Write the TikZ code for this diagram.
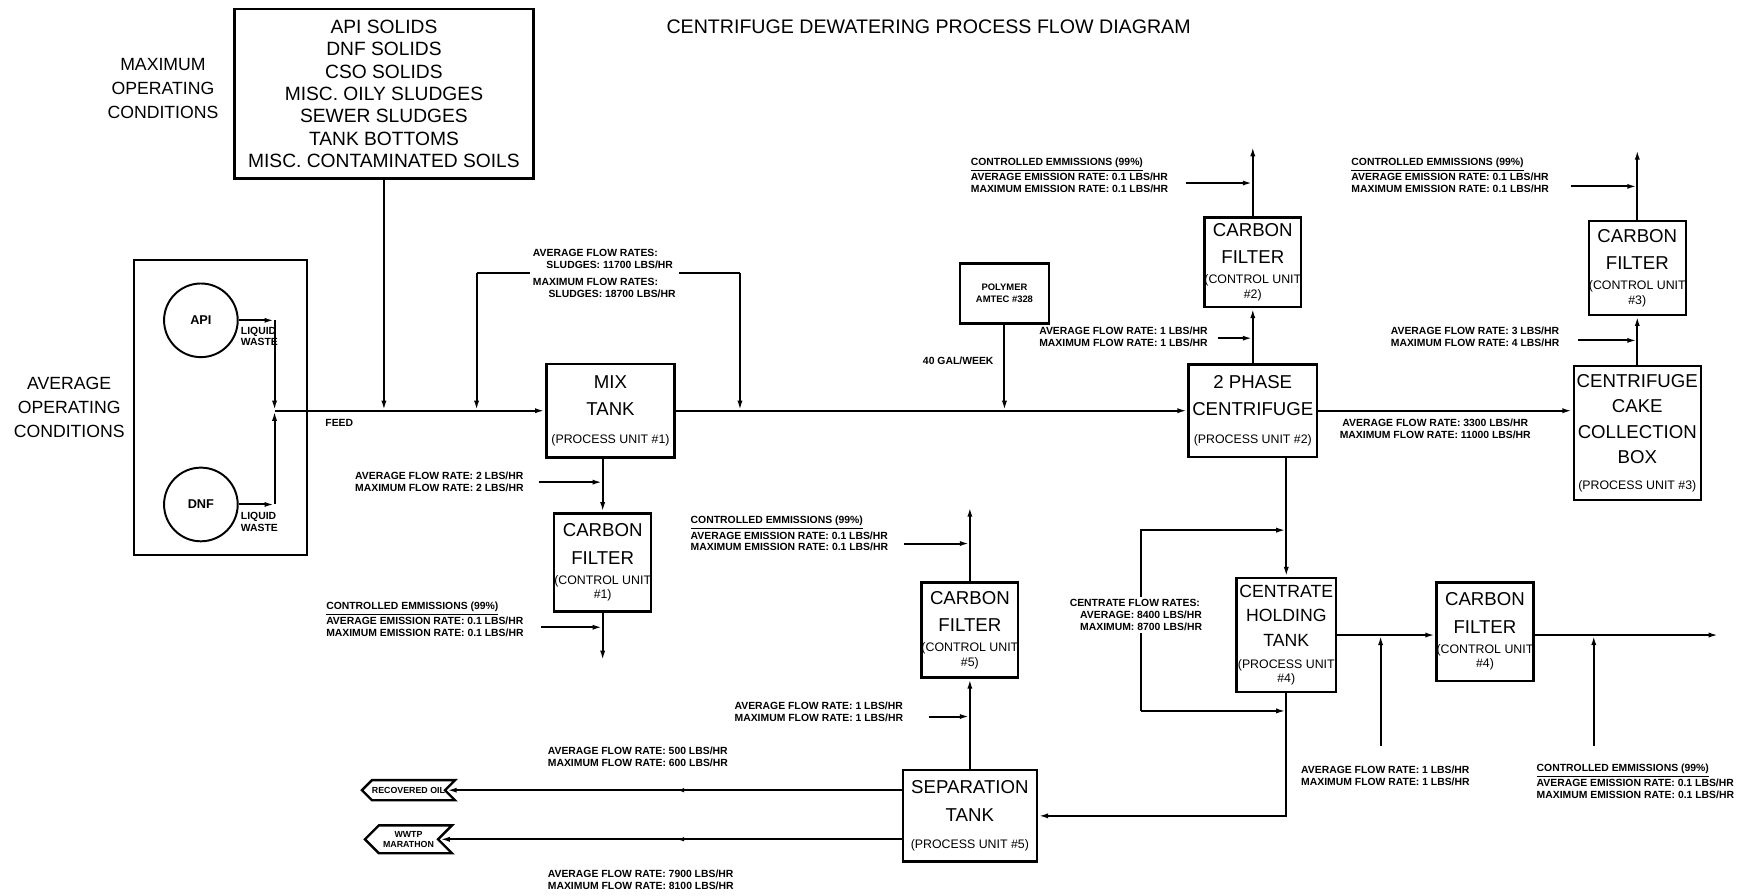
\documentclass[tikz,border=0pt]{standalone}
\usepackage{fontspec}
\setmainfont{Liberation Sans}
\usetikzlibrary{arrows.meta,positioning,shapes.symbols}

\newcommand{\unitline}[1]{{\fontsize{6.3}{7}\selectfont #1}}

\begin{document}
\begin{tikzpicture}[
  x=0.2mm, y=-0.2mm,
  line width=1pt,
  >={Latex[length=1.8mm,width=0.9mm]},
  procbox/.style={draw,line width=1.2pt,align=center,inner sep=0pt,
                  font=\fontsize{9.5}{14}\selectfont},
  ctrlbox/.style={procbox,minimum width=17mm,minimum height=17mm},
  note/.style={font=\fontsize{5.3}{6}\selectfont\bfseries,align=left,inner sep=0pt},
  condlbl/.style={font=\fontsize{9}{12.2}\selectfont,align=center,inner sep=0pt},
  tank/.style={draw,circle,minimum size=13.2mm,inner sep=0pt,
               font=\fontsize{6.5}{7}\selectfont\bfseries},
  outlet/.style={draw,line width=1.2pt,signal,signal to=west,signal from=east,
                 inner sep=0pt,align=center,minimum width=15.6mm,
                 font=\fontsize{4.5}{5}\selectfont\bfseries},
  smalltip/.style={-{Latex[length=1.4mm,width=0.8mm]}},
]
\useasboundingbox (0,0) rectangle (1568,802);

% ---- title ----
\node[font=\fontsize{10}{12}\selectfont] (title) at (832,24)
     {CENTRIFUGE DEWATERING PROCESS FLOW DIAGRAM};

% ---- maximum operating conditions: the feed materials ----
\node[condlbl] (maxlbl) at (146,79) {MAXIMUM\\OPERATING\\CONDITIONS};
\node[draw,line width=1.2pt,minimum width=53.6mm,minimum height=30.4mm,
      align=center,inner sep=0pt,font=\fontsize{9.8}{11.4}\selectfont]
     (feeds) at (344,84)
     {API SOLIDS\\DNF SOLIDS\\CSO SOLIDS\\MISC. OILY SLUDGES\\SEWER SLUDGES\\
      TANK BOTTOMS\\MISC. CONTAMINATED SOILS};

% ---- average operating conditions: API and DNF liquid waste ----
\node[condlbl] (avglbl) at (62,365) {AVERAGE\\OPERATING\\CONDITIONS};
\node[draw,line width=1.2pt,minimum width=31mm,minimum height=52.8mm]
     (source) at (197.5,365) {};
\node[tank] (api) at (180,287) {API};
\node[tank] (dnf) at (180,452) {DNF};
\node[note,anchor=north west] (apiwaste) at (215,292) {LIQUID\\WASTE};
\node[note,anchor=north west] (dnfwaste) at (215,458) {LIQUID\\WASTE};

\coordinate (join) at (246,368);
\draw[->] (api.east) -- (api.east -| join) coordinate (apicorner);
\draw[->] (apicorner) -- (join);
\draw[->] (dnf.east) -- (dnf.east -| join) coordinate (dnfcorner);
\draw[->] (dnfcorner) -- (join);

% ---- feed line into the mix tank ----
\node[procbox,minimum width=23mm,minimum height=16.8mm] (mixtank) at (547,368)
     {MIX\\TANK\\\unitline{(PROCESS UNIT \#1)}};
\draw[->] (join) -- (mixtank.west);
\node[note] (feed) at (304,379) {FEED};
\draw[->] (feeds.south) -- (feeds.south |- join);

% sludge rates sit in a gap of the bracket line
\coordinate (sludgeL) at (427,245);
\coordinate (sludgeR) at (663,245);
\draw (sludgeL) -- (sludgeR);
\draw[->] (sludgeL) -- (sludgeL |- mixtank.west);
\draw[->] (sludgeR) -- (sludgeR |- mixtank.east);
\node[note,fill=white,inner sep=1.5pt,anchor=west] (sludge) at (474,245)
     {AVERAGE FLOW RATES:\\\hspace{1.3em}SLUDGES: 11700 LBS/HR\\[3pt]
      MAXIMUM FLOW RATES:\\\hspace{1.5em}SLUDGES: 18700 LBS/HR};

% ---- polymer and the 2 phase centrifuge ----
\node[draw,line width=1.2pt,minimum width=16mm,minimum height=10.8mm,
      align=center,inner sep=0pt,font=\fontsize{4.8}{6}\selectfont\bfseries]
     (polymer) at (900,263) {POLYMER\\AMTEC \#328};
\node[note,anchor=east] (gal) at (891,323) {40 GAL/WEEK};

\node[procbox,minimum width=23mm,minimum height=16.6mm] (centrifuge) at (1122.5,368)
     {2 PHASE\\CENTRIFUGE\\\unitline{(PROCESS UNIT \#2)}};
\draw[->] (mixtank.east) -- (centrifuge.west);
\draw[->] (polymer.south) -- (polymer.south |- mixtank.east);

% ---- carbon filter 1 under the mix tank ----
\node[ctrlbox,minimum height=17.6mm] (cf1) at (540,504)
     {CARBON\\FILTER\\[-3.8pt]\unitline{(CONTROL UNIT}\\[-6.6pt]\unitline{\#1)}};
\draw[->] (cf1.north |- mixtank.south) -- (cf1.north);
\coordinate (cf1in) at (483,432);
\draw[->] (cf1in) -- (cf1in -| cf1.north);
\node[note,anchor=east] (cf1rate) at (470,432)
     {AVERAGE FLOW RATE: 2 LBS/HR\\MAXIMUM FLOW RATE: 2 LBS/HR};
\coordinate (cf1vent) at (540,592);
\draw[->] (cf1.south) -- (cf1vent);
\coordinate (cf1em) at (485,562);
\draw[->] (cf1em) -- (cf1em -| cf1.south);
\node[note,anchor=east] (cf1emis) at (470,555)
     {\underline{CONTROLLED EMMISSIONS (99\%)}\\AVERAGE EMISSION RATE: 0.1 LBS/HR\\
      MAXIMUM EMISSION RATE: 0.1 LBS/HR};

% ---- carbon filter 2 over the centrifuge ----
\node[ctrlbox,minimum width=17.2mm,minimum height=16mm] (cf2) at (1122.5,235)
     {CARBON\\FILTER\\[-3.8pt]\unitline{(CONTROL UNIT}\\[-6.6pt]\unitline{\#2)}};
\draw[->] (centrifuge.north) -- (cf2.south);
\coordinate (cf2in) at (1091,303);
\draw[->] (cf2in) -- (cf2in -| cf2.south);
\node[note,anchor=east] (cf2rate) at (1083,302)
     {AVERAGE FLOW RATE: 1 LBS/HR\\MAXIMUM FLOW RATE: 1 LBS/HR};
\coordinate (cf2vent) at (1122.5,131);
\draw[->] (cf2.north) -- (cf2vent);
\coordinate (cf2em) at (1063,164);
\draw[->] (cf2em) -- (cf2em -| cf2.north);
\node[note,anchor=west] (cf2emis) at (869,157)
     {\underline{CONTROLLED EMMISSIONS (99\%)}\\AVERAGE EMISSION RATE: 0.1 LBS/HR\\
      MAXIMUM EMISSION RATE: 0.1 LBS/HR};

% ---- cake collection box and carbon filter 3 ----
\node[procbox,minimum width=22.8mm,minimum height=24mm] (cakebox) at (1467,388)
     {CENTRIFUGE\\[-1pt]CAKE\\[-1pt]COLLECTION\\[-1pt]BOX\\[-1pt]
      \unitline{(PROCESS UNIT \#3)}};
\draw[->] (centrifuge.east) -- (centrifuge.east -| cakebox.west);
\node[note,align=center] (cakerate) at (1286,384)
     {AVERAGE FLOW RATE: 3300 LBS/HR\\MAXIMUM FLOW RATE: 11000 LBS/HR};

\node[ctrlbox,minimum height=16.8mm] (cf3) at (1467,240)
     {CARBON\\FILTER\\[-3.8pt]\unitline{(CONTROL UNIT}\\[-6.6pt]\unitline{\#3)}};
\draw[->] (cakebox.north) -- (cf3.south);
\coordinate (cf3in) at (1414,305);
\draw[->] (cf3in) -- (cf3in -| cf3.south);
\node[note,anchor=east] (cf3rate) at (1398,302)
     {AVERAGE FLOW RATE: 3 LBS/HR\\MAXIMUM FLOW RATE: 4 LBS/HR};
\coordinate (cf3vent) at (1467,134);
\draw[->] (cf3.north) -- (cf3vent);
\coordinate (cf3em) at (1408,167);
\draw[->] (cf3em) -- (cf3em -| cf3.north);
\node[note,anchor=west] (cf3emis) at (1210,157)
     {\underline{CONTROLLED EMMISSIONS (99\%)}\\AVERAGE EMISSION RATE: 0.1 LBS/HR\\
      MAXIMUM EMISSION RATE: 0.1 LBS/HR};

% ---- centrate holding tank with its side loop ----
\node[procbox,minimum width=17.8mm,minimum height=20.4mm,
      font=\fontsize{9}{14}\selectfont] (holding) at (1152.5,569)
     {CENTRATE\\[-1.5pt]HOLDING\\[-1.5pt]TANK\\[-2.7pt]\unitline{(PROCESS UNIT}\\[-6.6pt]
      \unitline{\#4)}};
\draw[->] (holding.north |- centrifuge.south) -- (holding.north);

\coordinate (bypT) at (1022,475);
\coordinate (bypB) at (1022,637);
\draw[->] (bypB) -- (bypT) -- (bypT -| holding.north);
\draw[->] (bypB) -- (bypB -| holding.south);
\node[note,fill=white,inner sep=1.5pt,anchor=west] (centrate) at (955,551)
     {CENTRATE FLOW RATES:\\\hspace{1em}AVERAGE: 8400 LBS/HR\\\hspace{1em}MAXIMUM: 8700 LBS/HR};

% ---- carbon filter 4 after the holding tank ----
\node[ctrlbox,minimum height=17.6mm] (cf4) at (1330.5,566)
     {CARBON\\FILTER\\[-3.8pt]\unitline{(CONTROL UNIT}\\[-6.6pt]\unitline{\#4)}};
\draw[->] (holding.east) -- (holding.east -| cf4.west);
\coordinate (cf4in) at (1237,668);
\draw[->] (cf4in) -- (cf4in |- holding.east);
\node[note,anchor=west] (cf4rate) at (1165,695)
     {AVERAGE FLOW RATE: 1 LBS/HR\\MAXIMUM FLOW RATE: 1 LBS/HR};
\coordinate (cf4vent) at (1540,569);
\draw[->] (cf4.east |- cf4vent) -- (cf4vent);
\coordinate (cf4em) at (1428,668);
\draw[->] (cf4em) -- (cf4em |- cf4vent);
\node[note,anchor=west] (cf4emis) at (1376,700)
     {\underline{CONTROLLED EMMISSIONS (99\%)}\\AVERAGE EMISSION RATE: 0.1 LBS/HR\\
      MAXIMUM EMISSION RATE: 0.1 LBS/HR};

% ---- separation tank, carbon filter 5 and the outlets ----
\node[procbox,minimum width=24mm,minimum height=16.4mm] (septank) at (869,731)
     {SEPARATION\\TANK\\\unitline{(PROCESS UNIT \#5)}};
\draw[->] (holding.south) |- (septank.east);

\node[ctrlbox] (cf5) at (869,564.5)
     {CARBON\\FILTER\\[-3.8pt]\unitline{(CONTROL UNIT}\\[-6.6pt]\unitline{\#5)}};
\draw[->] (septank.north) -- (cf5.south);
\coordinate (cf5in) at (832,642);
\draw[->] (cf5in) -- (cf5in -| cf5.south);
\node[note,anchor=east] (cf5rate) at (810,638)
     {AVERAGE FLOW RATE: 1 LBS/HR\\MAXIMUM FLOW RATE: 1 LBS/HR};
\coordinate (cf5vent) at (869,454);
\draw[->] (cf5.north) -- (cf5vent);
\coordinate (cf5em) at (810,487);
\draw[->] (cf5em) -- (cf5em -| cf5.north);
\node[note,anchor=west] (cf5emis) at (618,478)
     {\underline{CONTROLLED EMMISSIONS (99\%)}\\AVERAGE EMISSION RATE: 0.1 LBS/HR\\
      MAXIMUM EMISSION RATE: 0.1 LBS/HR};

\node[outlet,minimum height=3.6mm] (oil) at (366,708) {RECOVERED OIL};
\node[outlet,minimum height=5mm] (wwtp) at (366,752) {WWTP\\MARATHON};
\coordinate (oilmid) at (606,708);
\coordinate (wwtpmid) at (606,752);
\draw[->] (septank.west |- oil.east) -- (oil.east);
\draw[smalltip] (septank.west |- oil.east) -- (oilmid);
\draw[->] (septank.west |- wwtp.east) -- (wwtp.east);
\draw[smalltip] (septank.west |- wwtp.east) -- (wwtpmid);
\node[note,anchor=west] (oilrate) at (490,678)
     {AVERAGE FLOW RATE: 500 LBS/HR\\MAXIMUM FLOW RATE: 600 LBS/HR};
\node[note,anchor=west] (wwtprate) at (490,788)
     {AVERAGE FLOW RATE: 7900 LBS/HR\\MAXIMUM FLOW RATE: 8100 LBS/HR};

\end{tikzpicture}
\end{document}
